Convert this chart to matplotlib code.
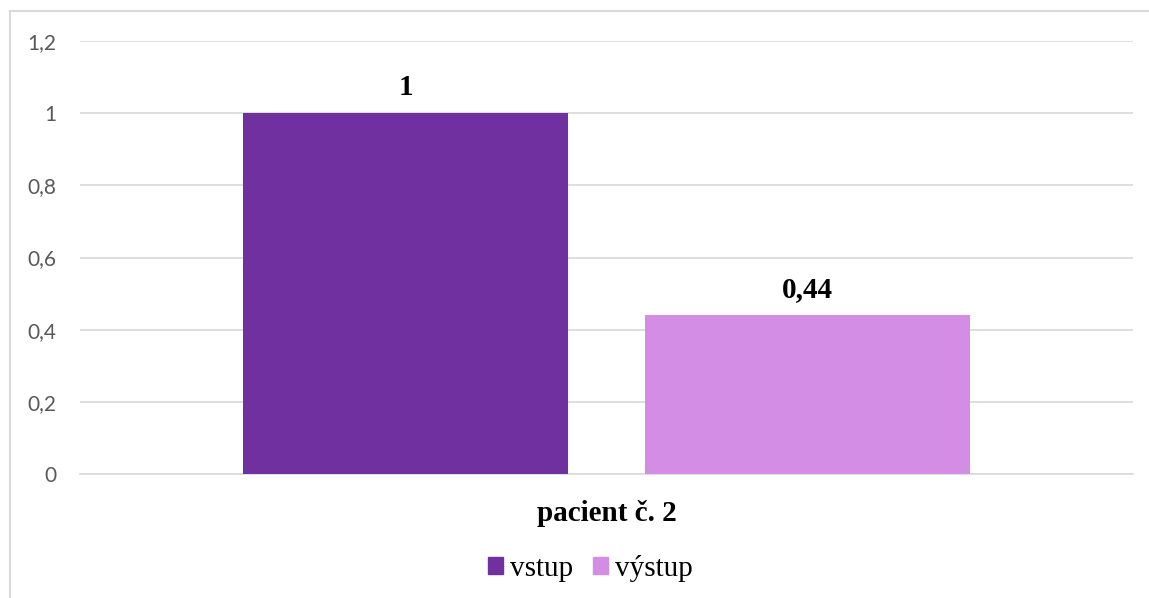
import matplotlib.pyplot as plt
from matplotlib.patches import Rectangle


CATEGORY = "pacient č. 2"
SERIES = ["vstup", "výstup"]
VALUES = [1, 0.44]
COLORS = ["#7030A0", "#D48DE5"]
Y_TICKS = [0, 0.2, 0.4, 0.6, 0.8, 1.0, 1.2]


def fmt(v):
    # Czech decimal comma, no trailing zeros
    s = f"{v:g}"
    return s.replace(".", ",")


def main() -> None:
    fig = plt.figure(figsize=(11.49, 5.98), dpi=100, facecolor="white")
    ax = fig.add_axes([80 / 1149, 1 - 474 / 598, 1053 / 1149, 433 / 598])

    bar_w = 325 / 1053
    offset = (325 + 77) / 2 / 1053
    xs = [-offset, offset]

    ax.bar(xs, VALUES, width=bar_w, color=COLORS, zorder=3)

    for x, v in zip(xs, VALUES):
        ax.annotate(fmt(v), (x, v), xytext=(0, 9), textcoords="offset points",
                    ha="center", va="bottom", fontsize=21, fontweight="bold",
                    family="Liberation Serif", color="black")

    ax.set_xlim(-0.5, 0.5)
    ax.set_ylim(0, 1.2)
    ax.set_yticks(Y_TICKS)
    ax.set_yticklabels([fmt(t) for t in Y_TICKS], family="Lato", fontsize=15,
                       color="#595959")
    ax.set_xticks([0])
    ax.set_xticklabels([CATEGORY], family="Liberation Serif", fontsize=21,
                       fontweight="bold", color="black")
    ax.tick_params(axis="y", length=0, pad=17)
    ax.tick_params(axis="x", length=0, pad=19)

    ax.grid(axis="y", color="#D9D9D9", linewidth=1.2, zorder=0)
    for side in ["top", "right", "left"]:
        ax.spines[side].set_visible(False)
    ax.spines["bottom"].set_color("#D9D9D9")
    ax.spines["bottom"].set_linewidth(1.2)

    handles = [Rectangle((0, 0), 1, 1, color=c) for c in COLORS]
    fig.legend(handles, SERIES, loc="center", bbox_to_anchor=(0.514, 0.05),
               ncol=2, frameon=False, prop={"family": "Liberation Serif", "size": 21},
               handlelength=0.5, handleheight=0.5, handletextpad=0.25,
               columnspacing=0.7)

    # chart-area border, clipped at right and bottom like the reference
    fig.patches.append(Rectangle((10 / 1149, -0.1), 1.2, 1.1 - 11 / 598,
                                 transform=fig.transFigure, fill=False,
                                 edgecolor="#D9D9D9", linewidth=1.5))

    fig.savefig("out.png", dpi=100, facecolor="white")
    plt.close(fig)


if __name__ == "__main__":
    main()
